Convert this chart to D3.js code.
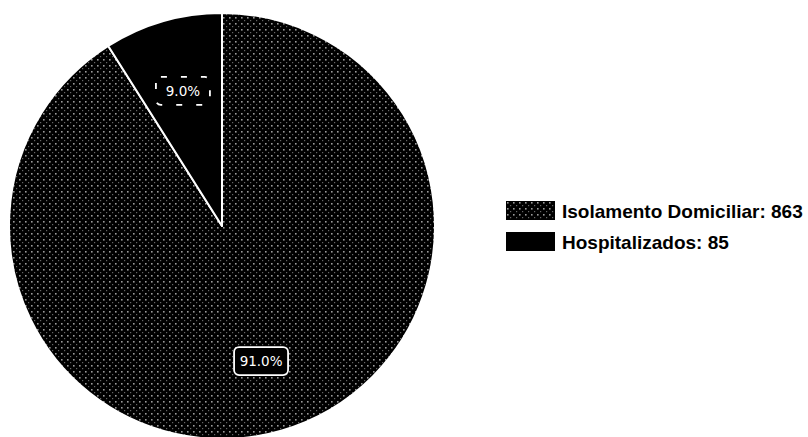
<!doctype html>
<html>
<head>
<meta charset="utf-8" />
<title>Isolamento vs Hospitalizados</title>
<style>
  html,body{margin:0;background:#fff}
  svg{display:block}
  .legend text{font-family:"Liberation Sans", Arial, sans-serif;font-weight:bold;font-size:19px;fill:#000}
  .pct{font-family:"DejaVu Sans", sans-serif;font-size:13.5px;fill:#fff;text-anchor:middle;dominant-baseline:central}
</style>
</head>
<body>
<svg id="chart" width="808" height="437"></svg>
<script src="https://cdn.jsdelivr.net/npm/d3@7"></script>
<script>
  // data
  const categories = ['Isolamento Domiciliar', 'Hospitalizados'];
  const counts     = [863, 85];
  const percents   = ['91.0%', '9.0%'];

  const W = 808, H = 437;
  const cx = 222, cy = 226, R = 213;

  const svg = d3.select('#chart');

  /* speckled fill, a rough stand-in for the scanned texture */
  const defs = svg.append('defs');
  const pat = defs.append('pattern')
      .attr('id', 'speck').attr('patternUnits', 'userSpaceOnUse')
      .attr('width', 6).attr('height', 6);
  pat.append('rect').attr('width', 6).attr('height', 6).attr('fill', '#000');
  pat.append('rect').attr('x', 1).attr('y', 1).attr('width', 1.6).attr('height', 1.6).attr('fill', '#9a9a9a');
  pat.append('rect').attr('x', 4).attr('y', 4).attr('width', 1.2).attr('height', 1.2).attr('fill', '#666');

  const fills = ['url(#speck)', '#000'];

  const pie = d3.pie().sort(null).value(d => d);
  const arcs = pie(counts);
  const arc = d3.arc().innerRadius(0).outerRadius(R);
  const labelArc = d3.arc().innerRadius(R * 0.66).outerRadius(R * 0.66);

  const g = svg.append('g').attr('transform', `translate(${cx},${cy})`);

  g.selectAll('path.slice')
    .data(arcs)
    .join('path')
      .attr('class', 'slice')
      .attr('d', arc)
      .attr('fill', (d, i) => fills[i])
      .attr('stroke', '#fff')
      .attr('stroke-width', 2)
      .attr('stroke-linejoin', 'round');

  // percentage labels in small boxes
  const lab = g.selectAll('g.lab')
    .data(arcs)
    .join('g')
      .attr('class', 'lab')
      .attr('transform', d => `translate(${labelArc.centroid(d)})`);

  lab.append('rect')
      .attr('x', -27).attr('y', -14)
      .attr('width', 54).attr('height', 28)
      .attr('rx', 5)
      .attr('fill', '#000')
      .attr('stroke', '#fff')
      .attr('stroke-width', 1.8)
      .attr('stroke-dasharray', (d, i) => i === 1 ? '6 14' : null);

  lab.append('text')
      .attr('class', 'pct')
      .text((d, i) => percents[i]);

  // legend
  const legend = svg.append('g')
      .attr('class', 'legend')
      .attr('transform', 'translate(506,201)');

  const item = legend.selectAll('g')
    .data(categories)
    .join('g')
      .attr('transform', (d, i) => `translate(0,${i * 31})`);

  item.append('rect')
      .attr('width', 49).attr('height', 19)
      .attr('fill', (d, i) => fills[i]);

  item.append('text')
      .attr('x', 56).attr('y', 10)
      .attr('dominant-baseline', 'central')
      .text((d, i) => `${d}: ${counts[i]}`);
</script>
</body>
</html>
